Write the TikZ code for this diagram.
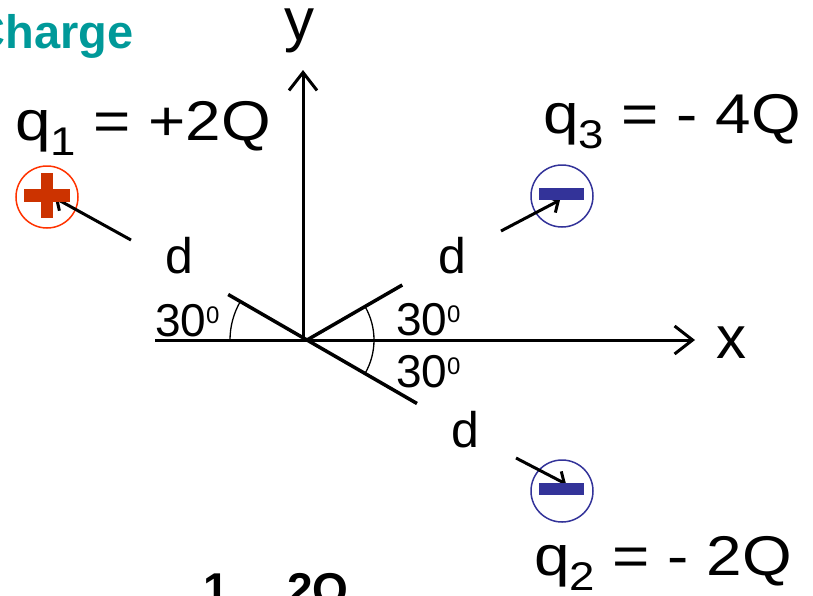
\documentclass[tikz,border=0pt]{standalone}
\usepackage{fontspec}
\setmainfont{Liberation Sans}
\usetikzlibrary{arrows.meta}
\definecolor{plusred}{HTML}{CC3300}
\definecolor{ringred}{HTML}{FF3300}
\definecolor{minusblue}{HTML}{333399}
\definecolor{titleteal}{HTML}{009999}
\newcommand\fsz[1]{\fontsize{#1}{#1}\selectfont}
\newcommand\qsub[1]{\raisebox{-15pt}{\fsz{40}#1}}
\newcommand\degsup{\raisebox{13pt}{\fsz{24}0}}
\newcommand\wide[1]{\scalebox{1.14}[1]{#1}}
\begin{document}
\begin{tikzpicture}[x=1pt,y=1pt,
  txt/.style={anchor=base west, inner sep=0pt, outer sep=0pt},
  axisline/.style={line width=3pt, -{Straight Barb[length=18pt,width=28pt]}},
  dirline/.style={line width=3.5pt},
  anglearc/.style={line width=1.3pt},
  pointer/.style={line width=3pt, -{Straight Barb[length=8pt,width=18pt]}},
  ring/.style={circle, draw=#1, line width=1.5pt, minimum size=62pt, inner sep=0pt},
  bar/.style={rectangle, fill=#1, inner sep=0pt, outer sep=0pt}]
\useasboundingbox (0,0) rectangle (813,-595);
\clip (0,0) rectangle (813,-595);

% axes
\coordinate (xs) at (155,-340);
\coordinate (xe) at (695,-340);
\coordinate (ys) at (303,-340);
\coordinate (ye) at (303,-70);
\draw[axisline] (xs) -- (xe);
\draw[axisline] (ys) -- (ye);

% direction lines and angles
\coordinate (O) at (307,-340);
\path (O) ++(150:91) coordinate (ul);
\path (O) ++(30:110) coordinate (ur);
\path (O) ++(-30:127) coordinate (lr);
\draw[dirline] (ul) -- (O);
\draw[dirline] (O) -- (ur);
\draw[dirline] (O) -- (lr);
\draw[anglearc] (O) ++(150:77) arc[start angle=150, end angle=180, radius=77];
\draw[anglearc] (O) ++(-30:67) arc[start angle=-30, end angle=30, radius=67];

% axis labels
\node[txt] (ylab) at (284,-40) {\fsz{60}y};
\node[txt] (xlab) at (716,-358) {\fsz{60}x};

% title fragment
\node[anchor=base east, inner sep=0pt, text=titleteal] (title) at (134,-48) {\fsz{47}\bfseries Charge};

% charge labels
\node[txt] (l1) at (15,-140) {\wide{\fsz{56}q\qsub{1} = +2Q}};
\node[txt] (l3) at (543,-133) {\wide{\fsz{56}q\qsub{3} = - 4Q}};
\node[txt] (l2) at (534,-575) {\wide{\fsz{56}q\qsub{2} = - 2Q}};

% distance labels
\node[txt] (d1) at (165,-273) {\fsz{50}d};
\node[txt] (d2) at (438,-273) {\fsz{50}d};
\node[txt] (d3) at (451,-447) {\fsz{50}d};

% angle labels
\node[txt] (a1) at (155,-336) {\fsz{46}30\degsup};
\node[txt] (a2) at (396,-335) {\fsz{46}30\degsup};
\node[txt] (a3) at (396,-387) {\fsz{46}30\degsup};

% bottom fragments
\node[txt] (b1) at (203,-605) {\fsz{46}\bfseries 1};
\node[txt] (b2) at (287,-605) {\fsz{46}\bfseries 2Q};

% charge rings
\node[ring=ringred] (q1) at (47,-197) {};
\node[ring=minusblue] (q3) at (562,-196) {};
\node[ring=minusblue] (q2) at (562,-491) {};

% pointers
\coordinate (t1) at (131,-240);
\coordinate (p1) at (55,-198);
\coordinate (t3) at (501,-231);
\coordinate (p3) at (560,-200);
\coordinate (t2) at (516,-458);
\coordinate (p2) at (566,-484);
\draw[pointer] (t1) -- (p1);
\draw[pointer] (t3) -- (p3);
\draw[pointer] (t2) -- (p2);

% signs
\node[bar=plusred, minimum width=46pt, minimum height=13pt] (plush) at (47,-195) {};
\node[bar=plusred, minimum width=12pt, minimum height=45pt] (plusv) at (47,-195) {};
\node[bar=minusblue, minimum width=45pt, minimum height=12pt] (m3) at (561.5,-194) {};
\node[bar=minusblue, minimum width=45pt, minimum height=12pt] (m2) at (561.5,-489) {};
\end{tikzpicture}
\end{document}
